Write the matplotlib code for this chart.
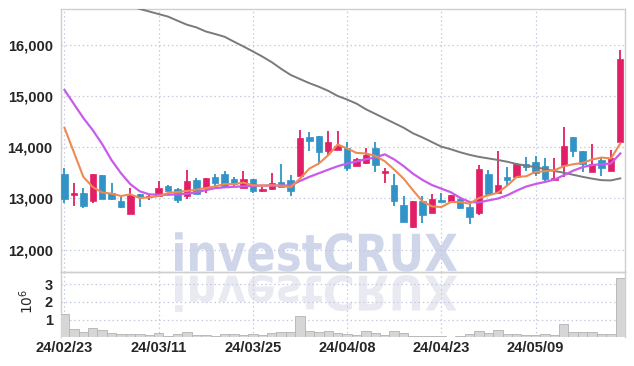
import matplotlib
matplotlib.use('Agg')
import matplotlib.pyplot as plt
from matplotlib.textpath import TextPath
from matplotlib.patches import PathPatch
from matplotlib.font_manager import FontProperties
import matplotlib.transforms as mtransforms

# ---------------- data ----------------
opens = [13470, 13060, 13100, 12940, 13450, 13100, 12940, 12700, 13080, 13020,
         13040, 13235, 13175, 13045, 13355, 13200, 13410, 13470, 13370, 13210,
         13370, 13145, 13190, 13315, 13355, 13445, 14190, 14215, 13930, 13935,
         13975, 13640, 13690, 13980, 13495, 13255, 12865, 12445, 12940, 12720,
         12960, 12945, 12995, 12830, 12720, 13485, 13105, 13420, 13420, 13665,
         13705, 13625, 13355, 13660, 14190, 13920, 13515, 13745, 13530, 14105]
highs = [13600, 13290, 13200, 13480, 13460, 13290, 13030, 13200, 13090, 13090,
         13340, 13260, 13210, 13560, 13390, 13400, 13485, 13525, 13420, 13525,
         13370, 13215, 13500, 13680, 13450, 14340, 14290, 14215, 14320, 14315,
         14105, 13790, 13985, 14105, 13595, 13470, 13040, 12945, 13045, 13090,
         13110, 13060, 13030, 12895, 13660, 13550, 13925, 13610, 13700, 13810,
         13820, 13795, 13780, 14400, 14190, 13920, 14060, 13810, 13940, 15890]
lows = [12910, 12860, 12820, 12900, 12980, 12970, 12820, 12700, 12840, 12970,
        13040, 13140, 12915, 12995, 13090, 13110, 13175, 13200, 13215, 13210,
        13100, 13125, 13170, 13220, 13045, 13445, 13930, 13670, 13820, 13935,
        13530, 13640, 13665, 13505, 13305, 12845, 12535, 12425, 12525, 12720,
        12925, 12945, 12800, 12505, 12665, 13090, 13105, 13270, 13420, 13535,
        13430, 13330, 13355, 13420, 13810, 13515, 13515, 13430, 13530, 14105]
closes = [12990, 13100, 12850, 13470, 12990, 12990, 12830, 13070, 13020, 13040,
          13210, 13145, 12975, 13335, 13090, 13395, 13300, 13230, 13280, 13370,
          13150, 13180, 13295, 13230, 13145, 14170, 14125, 13910, 14105, 14020,
          13595, 13770, 13855, 13655, 13530, 12945, 12535, 12940, 12665, 12980,
          12930, 13060, 12810, 12635, 13580, 13090, 13255, 13365, 13665, 13615,
          13495, 13380, 13390, 14020, 13925, 13665, 13665, 13595, 13790, 15725]
volumes = [1.32, 0.45, 0.30, 0.51, 0.40, 0.24, 0.19, 0.19, 0.17, 0.13,
           0.23, 0.07, 0.17, 0.28, 0.13, 0.11, 0.06, 0.17, 0.17, 0.13,
           0.17, 0.13, 0.23, 0.28, 0.28, 1.19, 0.34, 0.28, 0.34, 0.24,
           0.18, 0.12, 0.36, 0.22, 0.12, 0.36, 0.22, 0.06, 0.05, 0.05,
           0.05, 0.04, 0.05, 0.17, 0.34, 0.23, 0.40, 0.19, 0.17, 0.11,
           0.11, 0.17, 0.11, 0.73, 0.30, 0.30, 0.30, 0.17, 0.17, 3.33]
ma_short = [14378, 13900, 13420, 13220, 13115, 13092, 13045, 13078, 13006, 13020,
            13045, 13104, 13124, 13143, 13170, 13200, 13235, 13280, 13280, 13307,
            13255, 13248, 13255, 13248, 13215, 13385, 13582, 13680, 13843, 14053,
            13974, 13888, 13876, 13829, 13725, 13562, 13385, 13157, 12941, 12843,
            12830, 12928, 12928, 12896, 13006, 13059, 13110, 13250, 13418, 13431,
            13516, 13529, 13549, 13627, 13666, 13692, 13758, 13797, 13778, 14072]
ma_mid = [15118, 14843, 14570, 14333, 14059, 13745, 13490, 13275, 13137, 13078,
          13070, 13070, 13078, 13088, 13118, 13160, 13200, 13215, 13225, 13235,
          13245, 13250, 13250, 13250, 13250, 13340, 13420, 13490, 13560, 13627,
          13680, 13720, 13765, 13800, 13860, 13760, 13630, 13480, 13360, 13260,
          13190, 13120, 13010, 12930, 12920, 12960, 12995, 13060, 13150, 13230,
          13280, 13320, 13366, 13451, 13540, 13610, 13650, 13666, 13680, 13876]
ma_long = [17250, 17180, 17100, 17020, 16950, 16880, 16810, 16750, 16700, 16650,
           16600, 16550, 16470, 16392, 16340, 16260, 16210, 16156, 16060, 15967,
           15870, 15770, 15660, 15530, 15412, 15330, 15250, 15180, 15100, 15000,
           14930, 14850, 14740, 14650, 14560, 14470, 14380, 14270, 14190, 14100,
           14010, 13960, 13900, 13850, 13810, 13780, 13750, 13715, 13670, 13640,
           13610, 13570, 13535, 13500, 13460, 13420, 13385, 13355, 13350, 13390]
date_ticks = ["24/02/23", "24/03/11", "24/03/25", "24/04/08", "24/04/23", "24/05/09"]
price_ticks = [12000, 13000, 14000, 15000, 16000]
volume_ticks = [1, 2, 3]

# ---------------- styling ----------------
UP = '#e21f66'
DOWN = '#3193c6'
GRID = '#c5cadf'
SPINE = '#cfcfcf'
TXT = '#262626'
tick_font = dict(family=['Liberation Sans', 'DejaVu Sans'], weight='bold', size=10.5)

W, H = 634, 366
fig = plt.figure(figsize=(W / 100, H / 100), dpi=100)
fig.patch.set_facecolor('white')

L, R = 61, 625
ax = fig.add_axes([L / W, 1 - 272 / H, (R - L) / W, (272 - 9) / H])
axv = fig.add_axes([L / W, 1 - 337.3 / H, (R - L) / W, (337.3 - 272) / H], sharex=ax)
for a in (ax, axv):
    a.set_facecolor('none')
    for s in a.spines.values():
        s.set_color(SPINE)
        s.set_linewidth(1.0)
axv.spines['bottom'].set_visible(False)

# ---------------- watermark ----------------
fp = FontProperties(family='DejaVu Sans', weight='bold')
tp = TextPath((0, 0), "investCRUX", size=100, prop=fp)
ext = tp.get_extents()
x0, x1 = 175, 457
sx = (x1 - x0) / ext.width
sy = 39.5 / ext.height
base = H - 271.7
tr = mtransforms.Affine2D().translate(-ext.x0, -ext.y0).scale(sx, sy).translate(x0, base)
p1 = PathPatch(tp, transform=tr, facecolor='#d0d6ea', edgecolor='none', zorder=-5)
fig.add_artist(p1)
sy2 = 37.0 / ext.height
tr2 = mtransforms.Affine2D().translate(-ext.x0, -ext.y0).scale(sx, -sy2).translate(x0, H - 275)
p2 = PathPatch(tp, transform=tr2, facecolor='#e9e9f1', edgecolor='none', zorder=-5)
fig.add_artist(p2)

# ---------------- candles ----------------
n = len(opens)
xs = list(range(n))
for i in xs:
    o, h, l, c = opens[i], highs[i], lows[i], closes[i]
    col = UP if c >= o else DOWN
    ax.vlines(i, l, h, color=col, linewidth=1.3, zorder=3)
    bot = min(o, c)
    ht = max(abs(c - o), 30)
    ax.bar(i, ht, bottom=bot, width=0.68, color=col, edgecolor=col, linewidth=0.5, zorder=3)

ax.plot(xs, ma_long, color='#7a7a7a', linewidth=1.4, zorder=4)
ax.plot(xs, ma_mid, color='#c95bea', linewidth=1.6, zorder=4)
ax.plot(xs, ma_short, color='#ee8a52', linewidth=1.5, zorder=5)

ax.set_xlim(-0.37, 59.5)
ax.set_ylim(11561, 16699)
ax.set_yticks(price_ticks)
ax.set_yticklabels([f"{v:,}" for v in price_ticks], **tick_font, color=TXT)
ax.tick_params(axis='y', length=0, pad=6)
ax.tick_params(axis='x', length=0, labelbottom=False)
ax.set_xticks(range(0, n, 10))
ax.grid(True, color=GRID, linestyle=(0, (1.2, 2.2)), linewidth=0.9, zorder=1)
ax.set_axisbelow(True)

# ---------------- volume ----------------
axv.bar(xs, volumes, width=1.0, color='#d6d6d6', edgecolor='#b3b3b3', linewidth=0.6, zorder=3)
axv.set_ylim(0, 3.69)
axv.set_yticks(volume_ticks)
axv.set_yticklabels([str(v) for v in volume_ticks], **tick_font, color=TXT)
axv.set_xticks(range(0, n, 10))
axv.set_xticklabels(date_ticks, **tick_font, color=TXT)
axv.tick_params(axis='both', length=0)
axv.tick_params(axis='y', pad=6)
axv.tick_params(axis='x', pad=3)
axv.grid(True, color=GRID, linestyle=(0, (1.2, 2.2)), linewidth=0.9, zorder=1)
axv.set_axisbelow(True)
axv.set_ylabel(r'$10^6$', color=TXT, fontsize=10)
axv.yaxis.set_label_coords(-0.045, 0.55)

fig.savefig('out.png', dpi=100)
